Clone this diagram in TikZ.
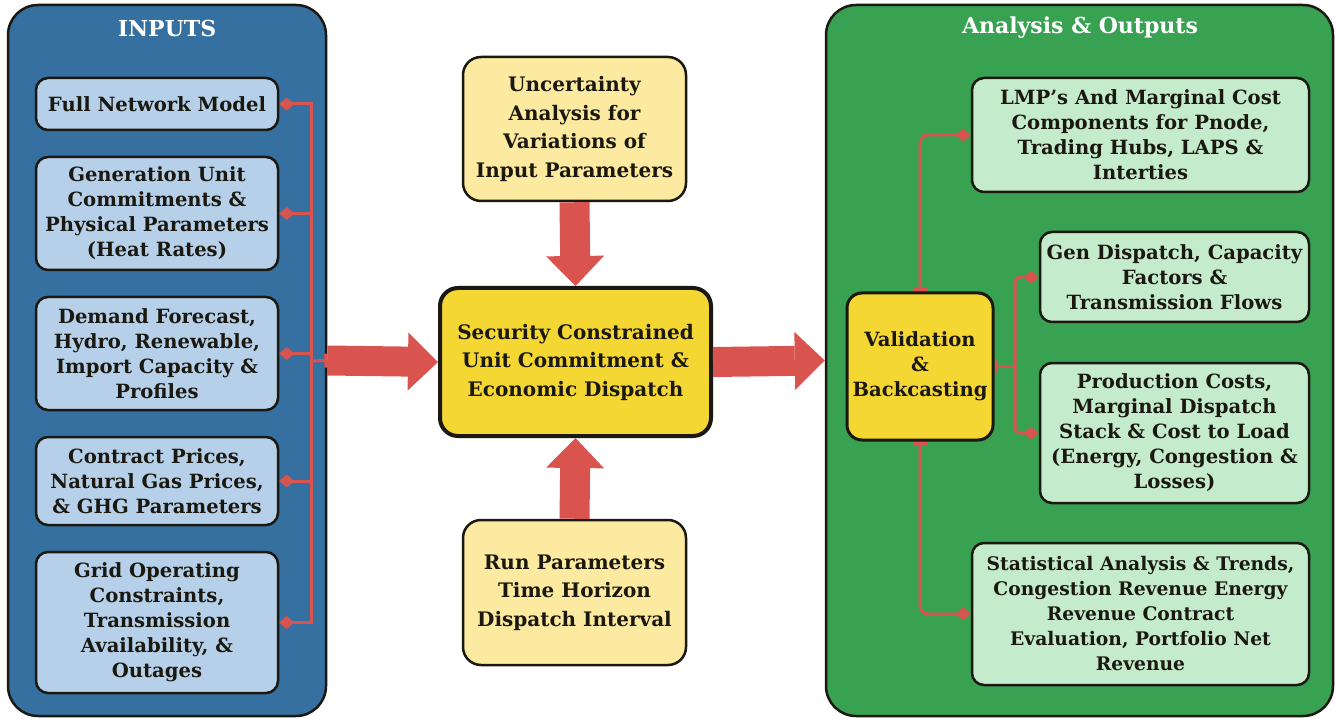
\documentclass[tikz,border=0pt]{standalone}
\usepackage{fontspec}
\setmainfont{DejaVu Serif}
\usetikzlibrary{arrows.meta}
\definecolor{inblue}{RGB}{54,112,160}
\definecolor{inlight}{RGB}{181,208,232}
\definecolor{outgreen}{RGB}{56,161,82}
\definecolor{outlight}{RGB}{196,235,203}
\definecolor{coreyellow}{RGB}{245,215,51}
\definecolor{paleyellow}{RGB}{252,234,160}
\definecolor{linkred}{RGB}{217,83,79}
\definecolor{inkdark}{RGB}{26,24,16}
\newcommand{\boxfont}{\bfseries\fontsize{19.6}{25}\selectfont}
\newcommand{\corefont}{\bfseries\fontsize{20}{28.5}\selectfont}
\newcommand{\titlefont}{\bfseries\fontsize{22}{26}\selectfont}

\begin{document}
\begin{tikzpicture}[
  x=1pt, y=-1pt,
  panel/.style={draw=inkdark, line width=2.5pt, rounded corners=30pt, inner sep=0pt},
  title/.style={text=white, font=\titlefont},
  box/.style={draw=inkdark, line width=2.5pt, rounded corners=12pt, align=center, text=inkdark, font=\boxfont, inner sep=0pt},
  core/.style={box, line width=4pt, rounded corners=18pt, font=\corefont},
  link/.style={draw=linkred, line width=3pt, -{Diamond[length=15pt,width=13pt]}},
  tee/.style={draw=linkred, line width=3pt, {Bar[width=14pt]}-},
  teelink/.style={draw=linkred, line width=3pt, {Bar[width=14pt]}-{Diamond[length=15pt,width=13pt]}},
  fat/.style={draw=linkred, line width=30pt, -{Triangle[length=30pt,width=58pt,line width=0pt]}}
]
  \useasboundingbox (0,0) rectangle (1336,719);

  \node[panel, fill=inblue, minimum width=318, minimum height=711] (inpanel) at (167,360.5) {};
  \node[title] (intitle) at (167,28) {INPUTS};
  \node[panel, fill=outgreen, minimum width=507, minimum height=711] (outpanel) at (1079.5,360.5) {};
  \node[title] (outtitle) at (1080,28) {Analysis \& Outputs};

  \node[box, fill=inlight, minimum width=242, minimum height=52] (network) at (157,104) {Full Network Model};
  \node[box, fill=inlight, minimum width=242, minimum height=113] (units) at (157,213.5) {Generation Unit\\Commitments \&\\Physical Parameters\\(Heat Rates)};
  \node[box, fill=inlight, minimum width=242, minimum height=113] (demand) at (157,353.5) {Demand Forecast,\\Hydro, Renewable,\\Import Capacity \&\\Profiles};
  \node[box, fill=inlight, minimum width=242, minimum height=88] (prices) at (157,481) {Contract Prices,\\Natural Gas Prices,\\\& GHG Parameters};
  \node[box, fill=inlight, minimum width=242, minimum height=141] (grid) at (157,622.5) {Grid Operating\\Constraints,\\Transmission\\Availability, \&\\Outages};

  \node[core, fill=paleyellow, line width=2.5pt, minimum width=223, minimum height=144] (uncert) at (574.5,129) {Uncertainty\\Analysis for\\Variations of\\Input Parameters};
  \node[core, fill=coreyellow, minimum width=271, minimum height=148] (sced) at (575.5,362) {Security Constrained\\Unit Commitment \&\\Economic Dispatch};
  \node[core, fill=paleyellow, line width=2.5pt, minimum width=223, minimum height=145] (runpar) at (574.5,592.5) {Run Parameters\\Time Horizon\\Dispatch Interval};

  \node[box, fill=coreyellow, line width=3pt, rounded corners=15pt, minimum width=146, minimum height=147] (valid) at (920,366.5) {Validation\\\&\\Backcasting};
  \node[box, fill=outlight, minimum width=337, minimum height=114] (lmp) at (1140.5,135) {LMP’s And Marginal Cost\\Components for Pnode,\\Trading Hubs, LAPS \&\\Interties};
  \node[box, fill=outlight, minimum width=269, minimum height=90] (gendisp) at (1174.5,277) {Gen Dispatch, Capacity\\Factors \&\\Transmission Flows};
  \node[box, fill=outlight, minimum width=269, minimum height=140] (prodcost) at (1174.5,433) {Production Costs,\\Marginal Dispatch\\Stack \& Cost to Load\\(Energy, Congestion \&\\Losses)};
  \node[box, fill=outlight, font=\bfseries\fontsize{18.7}{25}\selectfont, minimum width=337, minimum height=142] (stats) at (1140.5,614) {Statistical Analysis \& Trends,\\Congestion Revenue Energy\\Revenue Contract\\Evaluation, Portfolio Net\\Revenue};

  \coordinate (lbus) at (311,361);
  \coordinate (rbus) at (1015,366.5);

  \draw[link] (lbus) |- (network.east);
  \draw[link] (lbus) |- (units.east);
  \draw[link] (lbus) |- (demand.east);
  \draw[link] (lbus) |- (prices.east);
  \draw[link] (lbus) |- (grid.east);
  \draw[tee] (inpanel.east) -- (lbus);

  \draw[fat] (inpanel.east) -- (sced.west);
  \draw[fat] (uncert.south) -- (sced.north);
  \draw[fat] (runpar.north) -- (sced.south);
  \draw[fat] (sced.east) -- (outpanel.west);

  \draw[teelink, rounded corners=8pt] (valid.north) |- (lmp.west);
  \draw[tee] (valid.east) -- (rbus);
  \draw[link, rounded corners=5pt] (rbus) |- (gendisp.west);
  \draw[link, rounded corners=5pt] (rbus) |- (prodcost.west);
  \draw[teelink, rounded corners=8pt] (valid.south) |- (stats.west);
\end{tikzpicture}
\end{document}
